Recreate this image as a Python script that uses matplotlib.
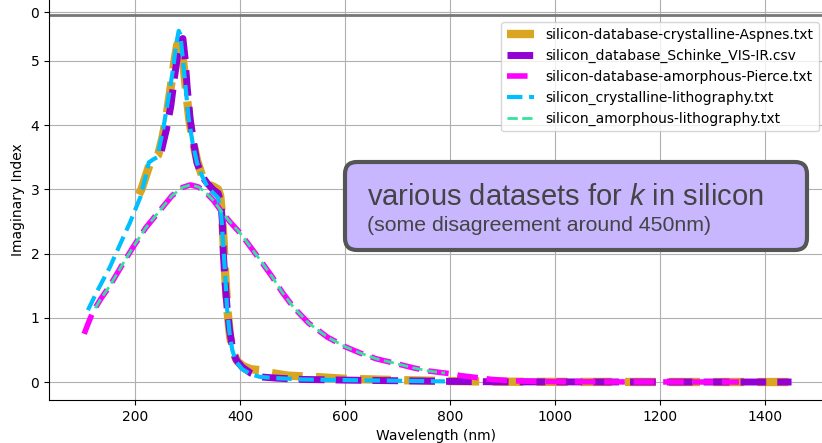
import matplotlib
matplotlib.use("Agg")
import matplotlib.pyplot as plt
from matplotlib.patches import FancyBboxPatch
from matplotlib.transforms import IdentityTransform

plt.rcParams['mathtext.fontset'] = 'custom'
plt.rcParams['mathtext.it'] = 'Liberation Sans:italic'
plt.rcParams['mathtext.rm'] = 'Liberation Sans'

# silicon-database-crystalline-Aspnes.txt
aspnes_wl = [207, 212, 220, 228, 236, 244, 252, 260, 268, 275, 280, 284, 288, 292, 297, 303,
             310, 318, 328, 338, 350, 358, 362, 366, 369, 372, 376, 381, 387, 395, 405, 420,
             444, 460, 490, 540, 600, 700, 800, 900, 1000, 1150, 1300, 1450]
aspnes_k = [2.92, 3.0, 3.2, 3.4, 3.48, 3.54, 3.8, 4.15, 4.6, 5.0, 5.25, 5.3, 5.2, 4.95, 4.55, 4.1,
            3.75, 3.45, 3.2, 3.08, 3.04, 3.0, 2.9, 2.55, 2.1, 1.6, 1.1, 0.7, 0.45, 0.32, 0.25, 0.2,
            0.18, 0.14, 0.1, 0.08, 0.05, 0.03, 0.015, 0.005, 0.002, 0.001, 0.0, 0.0]

# silicon_database_Schinke_VIS-IR.csv
schinke_wl = [250, 260, 268, 275, 282, 287, 291, 295, 299, 305, 312, 318, 328, 337, 348, 358,
              363, 366, 368, 371, 375, 380, 385, 392, 404, 420, 438, 470, 520, 600, 700, 800,
              900, 1000, 1100, 1200, 1300, 1450]
schinke_k = [3.6, 3.95, 4.3, 4.75, 5.15, 5.33, 5.35, 5.05, 4.6, 4.08, 3.7, 3.41, 3.2, 3.1, 3.0, 2.94,
             2.8, 2.52, 2.0, 1.6, 1.17, 0.8, 0.55, 0.35, 0.23, 0.14, 0.08, 0.06, 0.04, 0.03, 0.02, 0.01,
             0.003, 0.002, 0.001, 0.0, 0.0, 0.0]

# silicon-database-amorphous-Pierce.txt
pierce_wl = [103, 110, 120, 135, 152, 175, 196, 220, 248, 270, 290, 305, 320, 335, 350, 365,
             380, 400, 420, 438, 460, 480, 501, 530, 566, 600, 629, 660, 691, 730, 760, 790,
             800, 820, 850, 880, 920, 960, 1000, 1100, 1200, 1350]
pierce_k = [0.75, 0.9, 1.1, 1.3, 1.5, 1.82, 2.1, 2.4, 2.68, 2.9, 3.03, 3.07, 3.04, 2.95, 2.82, 2.65,
            2.5, 2.32, 2.1, 1.9, 1.65, 1.4, 1.17, 0.92, 0.7, 0.55, 0.45, 0.36, 0.3, 0.22, 0.17, 0.14,
            0.13, 0.1, 0.07, 0.04, 0.02, 0.01, 0.005, 0.002, 0.001, 0.0]

# silicon_crystalline-lithography.txt
cryst_wl = [110, 130, 152, 170, 190, 210, 220, 226, 235, 242, 253, 262, 272, 278, 283, 286,
            290, 296, 302, 310, 318, 328, 337, 348, 358, 364, 368, 372, 375, 380, 385, 392,
            404, 420, 438, 470, 520, 600, 700, 790]
cryst_k = [1.12, 1.45, 1.79, 2.12, 2.48, 2.88, 3.2, 3.42, 3.47, 3.5, 3.92, 4.35, 4.86, 5.25, 5.47, 5.42,
           5.1, 4.6, 4.1, 3.7, 3.41, 3.2, 3.05, 2.95, 2.87, 2.6, 2.1, 1.6, 1.15, 0.75, 0.5, 0.32,
           0.2, 0.12, 0.08, 0.06, 0.04, 0.03, 0.02, 0.01]

# silicon_amorphous-lithography.txt
amorph_wl = [124, 135, 152, 175, 196, 220, 248, 270, 290, 305, 320, 335, 350, 365, 380, 400,
             420, 438, 460, 480, 501, 530, 566, 600, 629, 660, 691, 730, 760, 790]
amorph_k = [1.15, 1.3, 1.5, 1.82, 2.1, 2.4, 2.68, 2.9, 3.03, 3.07, 3.04, 2.95, 2.82, 2.65, 2.5, 2.32,
            2.1, 1.9, 1.65, 1.4, 1.17, 0.92, 0.7, 0.55, 0.45, 0.36, 0.3, 0.22, 0.17, 0.14]

fig = plt.figure(figsize=(8.22, 4.43), dpi=100)
ax = fig.add_axes([49/822, 43/443, 1 - 49/822, 1 - 43/443])

ax.plot(aspnes_wl, aspnes_k, '--', color='goldenrod', lw=6, label='silicon-database-crystalline-Aspnes.txt')
ax.plot(schinke_wl, schinke_k, '--', color='darkviolet', lw=5, label='silicon_database_Schinke_VIS-IR.csv')
ax.plot(pierce_wl, pierce_k, '--', color='magenta', lw=4, label='silicon-database-amorphous-Pierce.txt')
ax.plot(cryst_wl, cryst_k, '--', color='deepskyblue', lw=3, label='silicon_crystalline-lithography.txt')
ax.plot(amorph_wl, amorph_k, '--', color='#33e39a', lw=2, label='silicon_amorphous-lithography.txt')

ax.axhline(5.717, color='#777777', lw=2)

ax.set_xlim(36, 1508)
ax.set_ylim(-0.28, 5.95)
ax.set_xticks([200, 400, 600, 800, 1000, 1200, 1400])
ax.set_yticks([0, 1, 2, 3, 4, 5, 5.763])
ax.set_yticklabels(['0', '1', '2', '3', '4', '5', '0'])
ax.grid(True)
ax.spines['top'].set_visible(False)
ax.spines['right'].set_visible(False)
ax.set_xlabel('Wavelength (nm)')
ax.set_ylabel('Imaginary Index')

ax.legend(loc='upper right', bbox_to_anchor=(819/822, 1 - 22/443),
          bbox_transform=fig.transFigure, borderaxespad=0)

box = FancyBboxPatch((345, 443 - 250), 462, 88, boxstyle='round,pad=0,rounding_size=12',
                     transform=IdentityTransform(), facecolor='#c8b6ff', edgecolor='#555555',
                     lw=3, zorder=10)
fig.patches.append(box)
fig.text(367/822, 1 - 205/443, 'various datasets for $k$ in silicon', family='Liberation Sans',
         fontsize=21, color='#444444', va='baseline', zorder=11)
fig.text(367/822, 1 - 231/443, '(some disagreement around 450nm)', family='Liberation Sans',
         fontsize=15.3, color='#444444', va='baseline', zorder=11)

fig.savefig('out.png', dpi=100)
